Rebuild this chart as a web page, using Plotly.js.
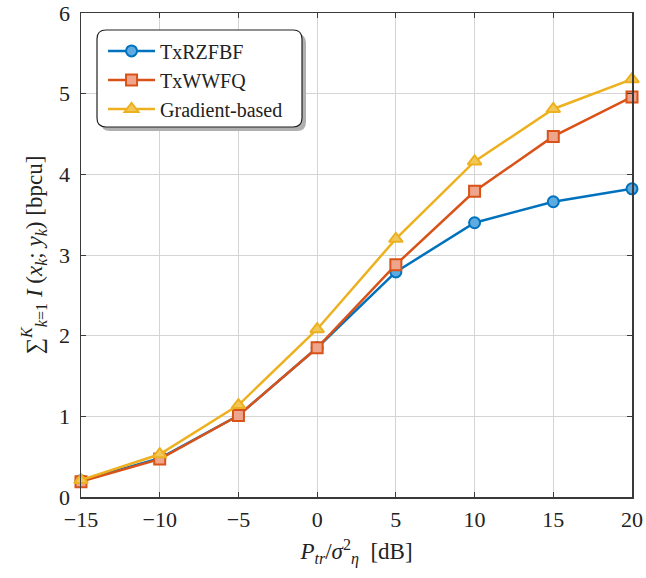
<!DOCTYPE html>
<html><head><meta charset="utf-8">
<script src="https://cdn.plot.ly/plotly-3.0.1.min.js"></script>
<style>body{margin:0;background:#fff}#c{width:646px;height:578px}</style>
</head><body><div id="c"></div>
<script>
const snr = [-15, -10, -5, 0, 5, 10, 15, 20];
const txRZFBF = [0.20, 0.48, 1.01, 1.85, 2.79, 3.40, 3.66, 3.82];
const txWWFQ = [0.19, 0.47, 1.01, 1.85, 2.88, 3.79, 4.47, 4.96];
const gradient = [0.21, 0.53, 1.14, 2.08, 3.20, 4.16, 4.81, 5.18];
const names = ['TxRZFBF', 'TxWWFQ', 'Gradient-based'];
const xTicks = [-15, -10, -5, 0, 5, 10, 15, 20];
const yTicks = [0, 1, 2, 3, 4, 5, 6];

const font = 'Liberation Serif, Times New Roman, serif';
function tr(y, name, line, fill, sym) {
  return {x: snr, y: y, name: name, type: 'scatter', mode: 'lines+markers', cliponaxis: false,
    line: {color: line, width: 2.5},
    marker: {symbol: sym, size: sym === 'triangle-up' ? 12 : 11, color: fill, line: {color: line, width: 2}}};
}
const data = [
  tr(txRZFBF, names[0], '#0072BD', '#5DABE0', 'circle'),
  tr(txWWFQ, names[1], '#D95319', '#EFA48C', 'square'),
  tr(gradient, names[2], '#EDB120', '#F2C75A', 'triangle-up')
];
const L = 81, R = 14, T = 13, B = 81, W = 646, H = 578;
const pw = W - L - R, ph = H - T - B;
function rrect(x0, x1, yTop, yBot, r) {
  const px = v => (v - L) / pw, py = v => (H - B - v) / ph;
  const rx = r / pw, ry = r / ph;
  const a = px(x0), b = px(x1), t = py(yTop), u = py(yBot);
  return `M${a+rx},${t} L${b-rx},${t} Q${b},${t} ${b},${t-ry} L${b},${u+ry} Q${b},${u} ${b-rx},${u} L${a+rx},${u} Q${a},${u} ${a},${u+ry} L${a},${t-ry} Q${a},${t} ${a+rx},${t} Z`;
}
const axisCommon = {
  showgrid: true, gridcolor: '#d4d4d4', gridwidth: 1,
  showline: true, linecolor: '#3a3a3a', linewidth: 1.5, mirror: 'ticks',
  ticks: 'inside', ticklen: 5, tickcolor: '#3a3a3a', zeroline: false,
  tickfont: {family: font, size: 22, color: '#222'}
};
const layout = {
  width: W, height: H, margin: {l: L, r: R, t: T, b: B},
  paper_bgcolor: '#fff', plot_bgcolor: '#fff',
  font: {family: font, color: '#222'},
  xaxis: Object.assign({}, axisCommon, {range: [-15, 20], tickvals: xTicks, ticklabelstandoff: 2,
    title: {text: '<i>P</i><sub><i>tr</i></sub>/<i>σ</i><sup>2</sup><sub><i>η</i></sub>  [dB]', font: {family: font, size: 23}, standoff: 12}}),
  yaxis: Object.assign({}, axisCommon, {range: [0, 6], tickvals: yTicks, ticklabelstandoff: 5,
    title: {text: '∑<sup><i>K</i></sup><sub><i>k</i>=1</sub> <i>I</i> (<i>x</i><sub><i>k</i></sub>; <i>y</i><sub><i>k</i></sub>) [bpcu]', font: {family: font, size: 23}, standoff: 10}}),
  legend: {x: 0.04, y: 0.962, xanchor: 'left', yanchor: 'top', bgcolor: 'rgba(0,0,0,0)', itemwidth: 47,
    borderwidth: 0, font: {family: font, size: 20, color: '#222'}, tracegroupgap: 0},
  shapes: [
    {type: 'path', xref: 'paper', yref: 'paper', path: rrect(101, 306, 34, 131, 9), fillcolor: '#b0b0b0', line: {width: 0}, layer: 'above'},
    {type: 'path', xref: 'paper', yref: 'paper', path: rrect(97, 302, 30, 127, 9), fillcolor: '#fff', line: {color: '#222', width: 1.2}, layer: 'above'}
  ],
  showlegend: true
};
Plotly.newPlot('c', data, layout, {displayModeBar: false, staticPlot: true});
</script></body></html>
